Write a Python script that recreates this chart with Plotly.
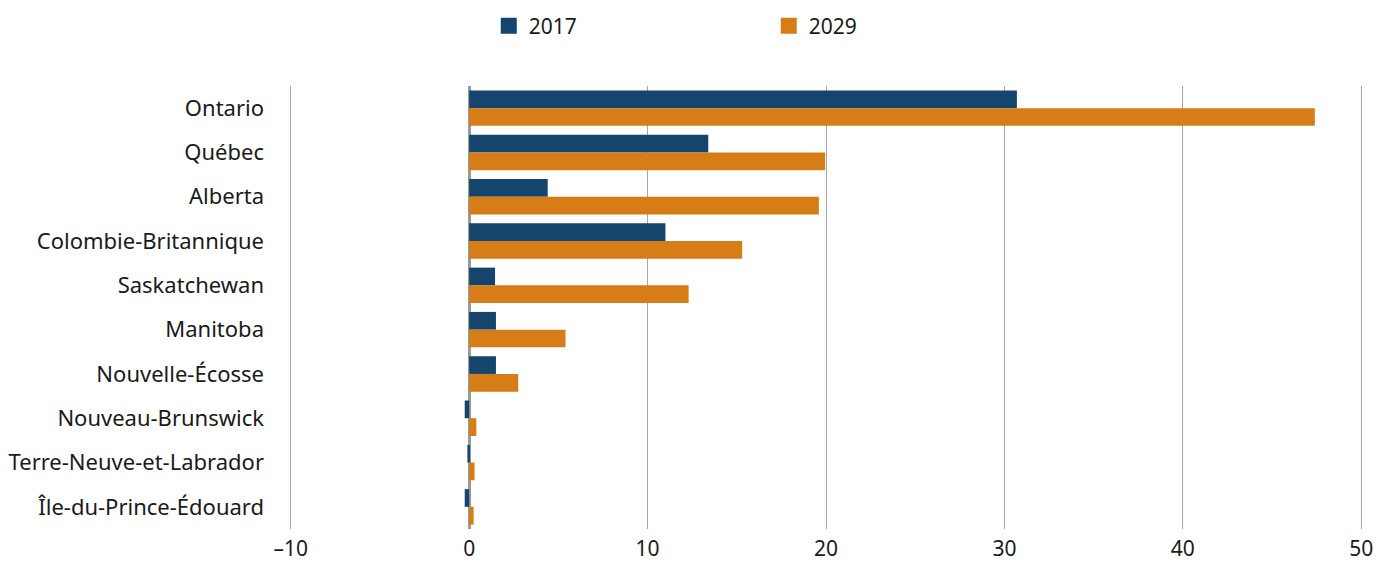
import plotly.graph_objects as go

provinces = ["Ontario", "Québec", "Alberta", "Colombie-Britannique", "Saskatchewan",
             "Manitoba", "Nouvelle-Écosse", "Nouveau-Brunswick",
             "Terre-Neuve-et-Labrador", "Île-du-Prince-Édouard"]
v2017 = [30.7, 13.4, 4.4, 11.0, 1.45, 1.5, 1.5, -0.25, -0.1, -0.25]
v2029 = [47.4, 19.95, 19.6, 15.3, 12.3, 5.4, 2.75, 0.4, 0.3, 0.25]
xticks = [-10, 0, 10, 20, 30, 40, 50]
xticklabels = ["–10", "0", "10", "20", "30", "40", "50"]
series = [("2017", v2017, "#15446d"), ("2029", v2029, "#d67d18")]

fig = go.Figure()
for name, vals, col in series:
    fig.add_trace(go.Bar(y=provinces, x=vals, name=name, orientation="h", showlegend=False,
                         marker=dict(color=col, line=dict(width=0))))
for name, vals, col in series:
    fig.add_trace(go.Scatter(x=[None], y=[None], mode="markers", name=name,
                             marker=dict(symbol="square", size=18, color=col)))

font = "Noto Sans, Open Sans, sans-serif"
fig.update_layout(
    barmode="group", bargap=0.2, bargroupgap=0,
    width=1377, height=563,
    margin=dict(l=289, r=14, t=86, b=34, autoexpand=False),
    paper_bgcolor="white", plot_bgcolor="white",
    font=dict(family=font, size=21, color="#1a1a1a"),
    legend=dict(orientation="h", x=0.186, xanchor="left", y=0.99, yanchor="top",
                yref="container", traceorder="normal", entrywidth=235,
                font=dict(size=21), itemwidth=30),
    showlegend=True,
)
fig.update_yaxes(autorange="reversed", showgrid=False, ticks="", ticklabelstandoff=24,
                 showline=False, zeroline=False, automargin=False,
                 tickfont=dict(size=22))
fig.update_xaxes(range=[-10.1, 50.1], tickvals=xticks, ticktext=xticklabels,
                 showgrid=True, gridcolor="#a6a6a6", gridwidth=1,
                 zeroline=True, zerolinecolor="#9a9a9a", zerolinewidth=3,
                 showline=False, ticks="", ticklabelstandoff=5, automargin=False,
                 tickfont=dict(size=21))
fig.write_html("out.html")
